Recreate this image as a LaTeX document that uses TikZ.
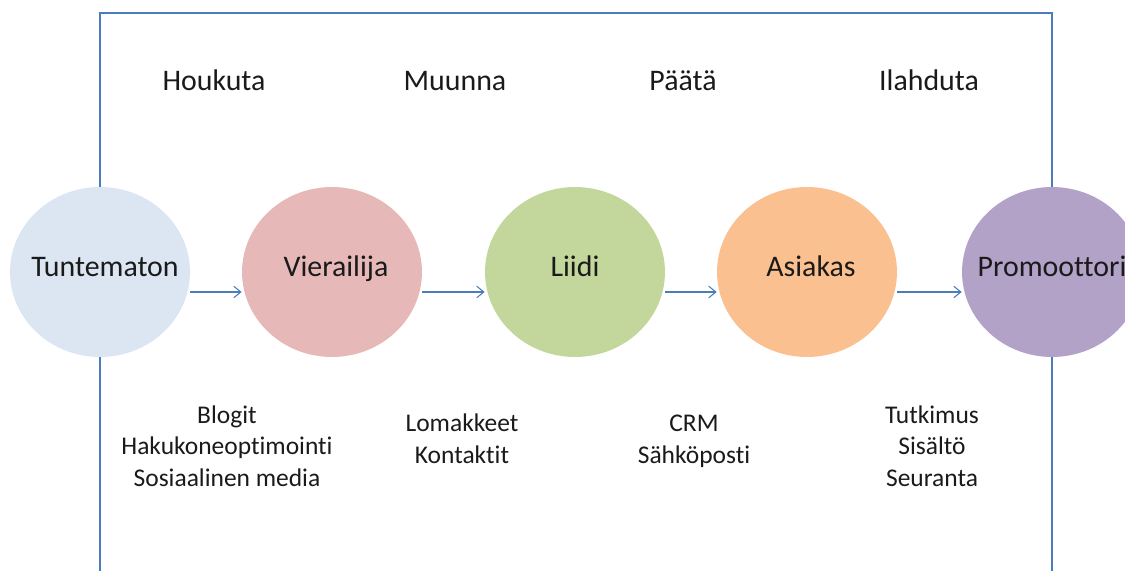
\documentclass[tikz,border=0pt]{standalone}
\usepackage{fontspec}
\setmainfont{Carlito}[Ligatures=NoCommon]
\usetikzlibrary{shapes,arrows.meta}

\definecolor{unknownfill}{HTML}{DCE6F2}
\definecolor{visitorfill}{HTML}{E6B9B8}
\definecolor{leadfill}{HTML}{C3D69B}
\definecolor{customerfill}{HTML}{FAC090}
\definecolor{promoterfill}{HTML}{B3A2C7}
\definecolor{linkblue}{HTML}{4A7EBB}
\definecolor{textgray}{HTML}{1A1A1A}

\begin{document}
\begin{tikzpicture}[x=0.02cm,y=-0.02cm]

\def\stagey{272}
\def\phasey{91}

\tikzstyle{stage}=[ellipse,minimum width=3.6cm,minimum height=3.4cm,inner sep=0pt]
\tikzstyle{stagetext}=[text=textgray,text height=0.7em,text depth=0.2em,font=\fontsize{17}{20}\selectfont]
\tikzstyle{phase}=[anchor=base,text=textgray,font=\fontsize{17}{20}\selectfont]
\tikzstyle{tools}=[anchor=base,align=center,text=textgray,font=\fontsize{14.5}{17.9}\selectfont]
\tikzstyle{flow}=[-{Straight Barb[length=4pt,width=6.5pt]},draw=linkblue,line width=0.6pt]
\tikzstyle{frame}=[draw=linkblue,line width=0.6pt]

\useasboundingbox (0,0) rectangle (1125,571);
\clip (0,0) rectangle (1125,571);

%stages
\node[stage,fill=unknownfill,label={[stagetext,xshift=0.1cm]center:Tuntematon}] (unknown) at (100,\stagey) {};
\node[stage,fill=visitorfill,label={[stagetext,xshift=0.08cm]center:Vierailija}] (visitor) at (332,\stagey) {};
\node[stage,fill=leadfill,label={[stagetext]center:Liidi}] (lead) at (575,\stagey) {};
\node[stage,fill=customerfill,label={[stagetext,xshift=0.08cm]center:Asiakas}] (customer) at (807,\stagey) {};
\node[stage,fill=promoterfill,label={[stagetext]center:Promoottori}] (promoter) at (1052,\stagey) {};

%phases
\node[phase] (attract) at (214,\phasey) {Houkuta};
\node[phase] (convert) at (455,\phasey) {Muunna};
\node[phase] (close) at (683,\phasey) {Päätä};
\node[phase] (delight) at (929,\phasey) {Ilahduta};

%tools (base = last line)
\node[tools] (attracttools) at (227,486) {Blogit\\Hakukoneoptimointi\\Sosiaalinen media};
\node[tools] (converttools) at (462,463) {Lomakkeet\\Kontaktit};
\node[tools] (closetools) at (694,463) {CRM\\Sähköposti};
\node[tools] (delighttools) at (932,486) {Tutkimus\\Sisältö\\Seuranta};

\draw[flow] ([yshift=-0.4cm]unknown.east) -- ([yshift=-0.4cm]visitor.west);
\draw[flow] ([yshift=-0.4cm]visitor.east) -- ([yshift=-0.4cm]lead.west);
\draw[flow] ([yshift=-0.4cm]lead.east) -- ([yshift=-0.4cm]customer.west);
\draw[flow] ([yshift=-0.4cm]customer.east) -- ([yshift=-0.4cm]promoter.west);

% frame
\coordinate (top) at (0,13);
\coordinate (bottom) at (0,571);
\draw[frame] (unknown.north) -- (unknown.north |- top) -- (promoter.north |- top) -- (promoter.north);
\draw[frame] (unknown.south) -- (unknown.south |- bottom);
\draw[frame] (promoter.south) -- (promoter.south |- bottom);

\end{tikzpicture}
\end{document}
